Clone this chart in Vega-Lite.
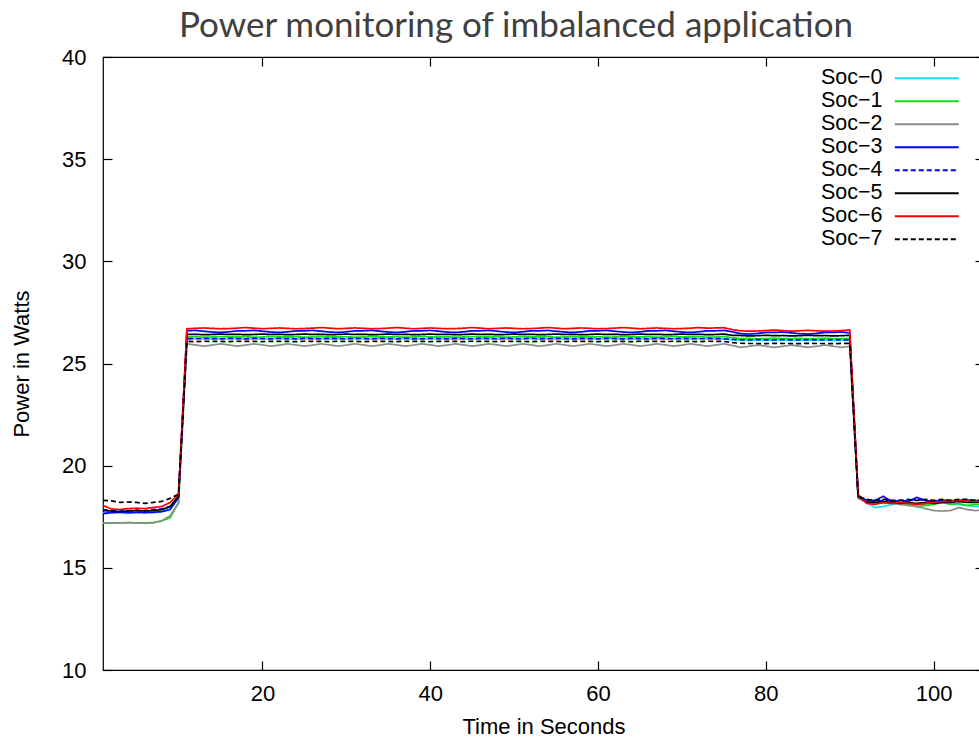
{
  "$schema": "https://vega.github.io/schema/vega-lite/v6.json",
  "width": 881,
  "height": 613,
  "autosize": "none",
  "padding": {"left": 103, "top": 57, "right": 0, "bottom": 67},
  "background": "white",
  "title": {"text": "Power monitoring of imbalanced application", "anchor": "start", "frame": "group", "dx": 76, "dy": 26, "offset": 0, "baseline": "alphabetic", "font": "Lato", "fontSize": 35, "fontWeight": "normal", "color": "#404040"},
  "data": {"values": [
    {"t":1,"Soc−0":17.7,"Soc−1":17.2,"Soc−2":17.2,"Soc−3":17.65,"Soc−4":17.85,"Soc−5":17.8,"Soc−6":18.05,"Soc−7":18.3},
    {"t":2,"Soc−0":17.72,"Soc−1":17.2,"Soc−2":17.18,"Soc−3":17.7,"Soc−4":17.8,"Soc−5":17.78,"Soc−6":17.88,"Soc−7":18.28},
    {"t":3,"Soc−0":17.7,"Soc−1":17.2,"Soc−2":17.2,"Soc−3":17.72,"Soc−4":17.82,"Soc−5":17.75,"Soc−6":17.85,"Soc−7":18.2},
    {"t":4,"Soc−0":17.68,"Soc−1":17.22,"Soc−2":17.2,"Soc−3":17.7,"Soc−4":17.8,"Soc−5":17.78,"Soc−6":17.9,"Soc−7":18.22},
    {"t":5,"Soc−0":17.7,"Soc−1":17.2,"Soc−2":17.2,"Soc−3":17.72,"Soc−4":17.82,"Soc−5":17.8,"Soc−6":17.92,"Soc−7":18.2},
    {"t":6,"Soc−0":17.72,"Soc−1":17.2,"Soc−2":17.18,"Soc−3":17.7,"Soc−4":17.8,"Soc−5":17.78,"Soc−6":17.9,"Soc−7":18.15},
    {"t":7,"Soc−0":17.7,"Soc−1":17.22,"Soc−2":17.2,"Soc−3":17.72,"Soc−4":17.85,"Soc−5":17.8,"Soc−6":17.95,"Soc−7":18.2},
    {"t":8,"Soc−0":17.75,"Soc−1":17.3,"Soc−2":17.3,"Soc−3":17.75,"Soc−4":17.88,"Soc−5":17.85,"Soc−6":18.0,"Soc−7":18.25},
    {"t":9,"Soc−0":17.9,"Soc−1":17.45,"Soc−2":17.55,"Soc−3":17.85,"Soc−4":18.0,"Soc−5":18.0,"Soc−6":18.2,"Soc−7":18.4},
    {"t":10,"Soc−0":18.4,"Soc−1":18.2,"Soc−2":18.15,"Soc−3":18.45,"Soc−4":18.5,"Soc−5":18.5,"Soc−6":18.6,"Soc−7":18.6},
    {"t":11,"Soc−0":26.2,"Soc−1":26.3,"Soc−2":25.96,"Soc−3":26.6,"Soc−4":26.22,"Soc−5":26.42,"Soc−6":26.7,"Soc−7":26.08},
    {"t":12,"Soc−0":26.22,"Soc−1":26.31,"Soc−2":25.91,"Soc−3":26.62,"Soc−4":26.21,"Soc−5":26.43,"Soc−6":26.72,"Soc−7":26.07},
    {"t":13,"Soc−0":26.19,"Soc−1":26.29,"Soc−2":25.85,"Soc−3":26.58,"Soc−4":26.23,"Soc−5":26.41,"Soc−6":26.74,"Soc−7":26.09},
    {"t":14,"Soc−0":26.21,"Soc−1":26.3,"Soc−2":25.9,"Soc−3":26.54,"Soc−4":26.22,"Soc−5":26.42,"Soc−6":26.72,"Soc−7":26.08},
    {"t":15,"Soc−0":26.2,"Soc−1":26.32,"Soc−2":25.96,"Soc−3":26.52,"Soc−4":26.21,"Soc−5":26.44,"Soc−6":26.7,"Soc−7":26.08},
    {"t":16,"Soc−0":26.2,"Soc−1":26.3,"Soc−2":25.91,"Soc−3":26.55,"Soc−4":26.23,"Soc−5":26.42,"Soc−6":26.71,"Soc−7":26.07},
    {"t":17,"Soc−0":26.22,"Soc−1":26.3,"Soc−2":25.85,"Soc−3":26.6,"Soc−4":26.22,"Soc−5":26.43,"Soc−6":26.73,"Soc−7":26.09},
    {"t":18,"Soc−0":26.19,"Soc−1":26.31,"Soc−2":25.9,"Soc−3":26.6,"Soc−4":26.21,"Soc−5":26.41,"Soc−6":26.76,"Soc−7":26.08},
    {"t":19,"Soc−0":26.21,"Soc−1":26.29,"Soc−2":25.96,"Soc−3":26.62,"Soc−4":26.23,"Soc−5":26.42,"Soc−6":26.73,"Soc−7":26.08},
    {"t":20,"Soc−0":26.2,"Soc−1":26.3,"Soc−2":25.91,"Soc−3":26.58,"Soc−4":26.22,"Soc−5":26.44,"Soc−6":26.7,"Soc−7":26.07},
    {"t":21,"Soc−0":26.2,"Soc−1":26.32,"Soc−2":25.85,"Soc−3":26.54,"Soc−4":26.21,"Soc−5":26.42,"Soc−6":26.72,"Soc−7":26.09},
    {"t":22,"Soc−0":26.22,"Soc−1":26.3,"Soc−2":25.9,"Soc−3":26.52,"Soc−4":26.23,"Soc−5":26.43,"Soc−6":26.74,"Soc−7":26.08},
    {"t":23,"Soc−0":26.19,"Soc−1":26.3,"Soc−2":25.96,"Soc−3":26.55,"Soc−4":26.22,"Soc−5":26.41,"Soc−6":26.72,"Soc−7":26.08},
    {"t":24,"Soc−0":26.21,"Soc−1":26.31,"Soc−2":25.91,"Soc−3":26.6,"Soc−4":26.21,"Soc−5":26.42,"Soc−6":26.7,"Soc−7":26.07},
    {"t":25,"Soc−0":26.2,"Soc−1":26.29,"Soc−2":25.85,"Soc−3":26.6,"Soc−4":26.23,"Soc−5":26.44,"Soc−6":26.71,"Soc−7":26.09},
    {"t":26,"Soc−0":26.2,"Soc−1":26.3,"Soc−2":25.9,"Soc−3":26.62,"Soc−4":26.22,"Soc−5":26.42,"Soc−6":26.73,"Soc−7":26.08},
    {"t":27,"Soc−0":26.22,"Soc−1":26.32,"Soc−2":25.96,"Soc−3":26.58,"Soc−4":26.21,"Soc−5":26.43,"Soc−6":26.76,"Soc−7":26.08},
    {"t":28,"Soc−0":26.19,"Soc−1":26.3,"Soc−2":25.91,"Soc−3":26.54,"Soc−4":26.23,"Soc−5":26.41,"Soc−6":26.73,"Soc−7":26.07},
    {"t":29,"Soc−0":26.21,"Soc−1":26.3,"Soc−2":25.85,"Soc−3":26.52,"Soc−4":26.22,"Soc−5":26.42,"Soc−6":26.7,"Soc−7":26.09},
    {"t":30,"Soc−0":26.2,"Soc−1":26.31,"Soc−2":25.9,"Soc−3":26.55,"Soc−4":26.21,"Soc−5":26.44,"Soc−6":26.72,"Soc−7":26.08},
    {"t":31,"Soc−0":26.2,"Soc−1":26.29,"Soc−2":25.96,"Soc−3":26.6,"Soc−4":26.23,"Soc−5":26.42,"Soc−6":26.74,"Soc−7":26.08},
    {"t":32,"Soc−0":26.22,"Soc−1":26.3,"Soc−2":25.91,"Soc−3":26.6,"Soc−4":26.22,"Soc−5":26.43,"Soc−6":26.72,"Soc−7":26.07},
    {"t":33,"Soc−0":26.19,"Soc−1":26.32,"Soc−2":25.85,"Soc−3":26.62,"Soc−4":26.21,"Soc−5":26.41,"Soc−6":26.7,"Soc−7":26.09},
    {"t":34,"Soc−0":26.21,"Soc−1":26.3,"Soc−2":25.9,"Soc−3":26.58,"Soc−4":26.23,"Soc−5":26.42,"Soc−6":26.71,"Soc−7":26.08},
    {"t":35,"Soc−0":26.2,"Soc−1":26.3,"Soc−2":25.96,"Soc−3":26.54,"Soc−4":26.22,"Soc−5":26.44,"Soc−6":26.73,"Soc−7":26.08},
    {"t":36,"Soc−0":26.2,"Soc−1":26.31,"Soc−2":25.91,"Soc−3":26.52,"Soc−4":26.21,"Soc−5":26.42,"Soc−6":26.76,"Soc−7":26.07},
    {"t":37,"Soc−0":26.22,"Soc−1":26.29,"Soc−2":25.85,"Soc−3":26.55,"Soc−4":26.23,"Soc−5":26.43,"Soc−6":26.73,"Soc−7":26.09},
    {"t":38,"Soc−0":26.19,"Soc−1":26.3,"Soc−2":25.9,"Soc−3":26.6,"Soc−4":26.22,"Soc−5":26.41,"Soc−6":26.7,"Soc−7":26.08},
    {"t":39,"Soc−0":26.21,"Soc−1":26.32,"Soc−2":25.96,"Soc−3":26.6,"Soc−4":26.21,"Soc−5":26.42,"Soc−6":26.72,"Soc−7":26.08},
    {"t":40,"Soc−0":26.2,"Soc−1":26.3,"Soc−2":25.91,"Soc−3":26.62,"Soc−4":26.23,"Soc−5":26.44,"Soc−6":26.74,"Soc−7":26.07},
    {"t":41,"Soc−0":26.2,"Soc−1":26.3,"Soc−2":25.85,"Soc−3":26.58,"Soc−4":26.22,"Soc−5":26.42,"Soc−6":26.72,"Soc−7":26.09},
    {"t":42,"Soc−0":26.22,"Soc−1":26.31,"Soc−2":25.9,"Soc−3":26.54,"Soc−4":26.21,"Soc−5":26.43,"Soc−6":26.7,"Soc−7":26.08},
    {"t":43,"Soc−0":26.19,"Soc−1":26.29,"Soc−2":25.96,"Soc−3":26.52,"Soc−4":26.23,"Soc−5":26.41,"Soc−6":26.71,"Soc−7":26.08},
    {"t":44,"Soc−0":26.21,"Soc−1":26.3,"Soc−2":25.91,"Soc−3":26.55,"Soc−4":26.22,"Soc−5":26.42,"Soc−6":26.73,"Soc−7":26.07},
    {"t":45,"Soc−0":26.2,"Soc−1":26.32,"Soc−2":25.85,"Soc−3":26.6,"Soc−4":26.21,"Soc−5":26.44,"Soc−6":26.76,"Soc−7":26.09},
    {"t":46,"Soc−0":26.2,"Soc−1":26.3,"Soc−2":25.9,"Soc−3":26.6,"Soc−4":26.23,"Soc−5":26.42,"Soc−6":26.73,"Soc−7":26.08},
    {"t":47,"Soc−0":26.22,"Soc−1":26.3,"Soc−2":25.96,"Soc−3":26.62,"Soc−4":26.22,"Soc−5":26.43,"Soc−6":26.7,"Soc−7":26.08},
    {"t":48,"Soc−0":26.19,"Soc−1":26.31,"Soc−2":25.91,"Soc−3":26.58,"Soc−4":26.21,"Soc−5":26.41,"Soc−6":26.72,"Soc−7":26.07},
    {"t":49,"Soc−0":26.21,"Soc−1":26.29,"Soc−2":25.85,"Soc−3":26.54,"Soc−4":26.23,"Soc−5":26.42,"Soc−6":26.74,"Soc−7":26.09},
    {"t":50,"Soc−0":26.2,"Soc−1":26.3,"Soc−2":25.9,"Soc−3":26.52,"Soc−4":26.22,"Soc−5":26.44,"Soc−6":26.72,"Soc−7":26.08},
    {"t":51,"Soc−0":26.2,"Soc−1":26.32,"Soc−2":25.96,"Soc−3":26.55,"Soc−4":26.21,"Soc−5":26.42,"Soc−6":26.7,"Soc−7":26.08},
    {"t":52,"Soc−0":26.22,"Soc−1":26.3,"Soc−2":25.91,"Soc−3":26.6,"Soc−4":26.23,"Soc−5":26.43,"Soc−6":26.71,"Soc−7":26.07},
    {"t":53,"Soc−0":26.19,"Soc−1":26.3,"Soc−2":25.85,"Soc−3":26.6,"Soc−4":26.22,"Soc−5":26.41,"Soc−6":26.73,"Soc−7":26.09},
    {"t":54,"Soc−0":26.21,"Soc−1":26.31,"Soc−2":25.9,"Soc−3":26.62,"Soc−4":26.21,"Soc−5":26.42,"Soc−6":26.76,"Soc−7":26.08},
    {"t":55,"Soc−0":26.2,"Soc−1":26.29,"Soc−2":25.96,"Soc−3":26.58,"Soc−4":26.23,"Soc−5":26.44,"Soc−6":26.73,"Soc−7":26.08},
    {"t":56,"Soc−0":26.2,"Soc−1":26.3,"Soc−2":25.91,"Soc−3":26.54,"Soc−4":26.22,"Soc−5":26.42,"Soc−6":26.7,"Soc−7":26.07},
    {"t":57,"Soc−0":26.22,"Soc−1":26.32,"Soc−2":25.85,"Soc−3":26.52,"Soc−4":26.21,"Soc−5":26.43,"Soc−6":26.72,"Soc−7":26.09},
    {"t":58,"Soc−0":26.19,"Soc−1":26.3,"Soc−2":25.9,"Soc−3":26.55,"Soc−4":26.23,"Soc−5":26.41,"Soc−6":26.74,"Soc−7":26.08},
    {"t":59,"Soc−0":26.21,"Soc−1":26.3,"Soc−2":25.96,"Soc−3":26.6,"Soc−4":26.22,"Soc−5":26.42,"Soc−6":26.72,"Soc−7":26.08},
    {"t":60,"Soc−0":26.2,"Soc−1":26.31,"Soc−2":25.91,"Soc−3":26.6,"Soc−4":26.21,"Soc−5":26.44,"Soc−6":26.7,"Soc−7":26.07},
    {"t":61,"Soc−0":26.2,"Soc−1":26.29,"Soc−2":25.85,"Soc−3":26.62,"Soc−4":26.23,"Soc−5":26.42,"Soc−6":26.71,"Soc−7":26.09},
    {"t":62,"Soc−0":26.22,"Soc−1":26.3,"Soc−2":25.9,"Soc−3":26.58,"Soc−4":26.22,"Soc−5":26.43,"Soc−6":26.73,"Soc−7":26.08},
    {"t":63,"Soc−0":26.19,"Soc−1":26.32,"Soc−2":25.96,"Soc−3":26.54,"Soc−4":26.21,"Soc−5":26.41,"Soc−6":26.76,"Soc−7":26.08},
    {"t":64,"Soc−0":26.21,"Soc−1":26.3,"Soc−2":25.91,"Soc−3":26.52,"Soc−4":26.23,"Soc−5":26.42,"Soc−6":26.73,"Soc−7":26.07},
    {"t":65,"Soc−0":26.2,"Soc−1":26.3,"Soc−2":25.85,"Soc−3":26.55,"Soc−4":26.22,"Soc−5":26.44,"Soc−6":26.7,"Soc−7":26.09},
    {"t":66,"Soc−0":26.2,"Soc−1":26.31,"Soc−2":25.9,"Soc−3":26.6,"Soc−4":26.21,"Soc−5":26.42,"Soc−6":26.72,"Soc−7":26.08},
    {"t":67,"Soc−0":26.22,"Soc−1":26.29,"Soc−2":25.96,"Soc−3":26.6,"Soc−4":26.23,"Soc−5":26.43,"Soc−6":26.74,"Soc−7":26.08},
    {"t":68,"Soc−0":26.19,"Soc−1":26.3,"Soc−2":25.91,"Soc−3":26.62,"Soc−4":26.22,"Soc−5":26.41,"Soc−6":26.72,"Soc−7":26.07},
    {"t":69,"Soc−0":26.21,"Soc−1":26.32,"Soc−2":25.85,"Soc−3":26.58,"Soc−4":26.21,"Soc−5":26.42,"Soc−6":26.7,"Soc−7":26.09},
    {"t":70,"Soc−0":26.2,"Soc−1":26.3,"Soc−2":25.9,"Soc−3":26.54,"Soc−4":26.23,"Soc−5":26.44,"Soc−6":26.71,"Soc−7":26.08},
    {"t":71,"Soc−0":26.2,"Soc−1":26.3,"Soc−2":25.96,"Soc−3":26.52,"Soc−4":26.22,"Soc−5":26.42,"Soc−6":26.73,"Soc−7":26.08},
    {"t":72,"Soc−0":26.22,"Soc−1":26.31,"Soc−2":25.91,"Soc−3":26.55,"Soc−4":26.21,"Soc−5":26.43,"Soc−6":26.76,"Soc−7":26.07},
    {"t":73,"Soc−0":26.19,"Soc−1":26.29,"Soc−2":25.85,"Soc−3":26.6,"Soc−4":26.23,"Soc−5":26.41,"Soc−6":26.73,"Soc−7":26.09},
    {"t":74,"Soc−0":26.21,"Soc−1":26.3,"Soc−2":25.9,"Soc−3":26.6,"Soc−4":26.22,"Soc−5":26.42,"Soc−6":26.74,"Soc−7":26.08},
    {"t":75,"Soc−0":26.2,"Soc−1":26.32,"Soc−2":25.96,"Soc−3":26.62,"Soc−4":26.21,"Soc−5":26.44,"Soc−6":26.75,"Soc−7":26.08},
    {"t":76,"Soc−0":26.16,"Soc−1":26.26,"Soc−2":25.88,"Soc−3":26.55,"Soc−4":26.18,"Soc−5":26.38,"Soc−6":26.66,"Soc−7":26.02},
    {"t":77,"Soc−0":26.16,"Soc−1":26.22,"Soc−2":25.79,"Soc−3":26.46,"Soc−4":26.16,"Soc−5":26.37,"Soc−6":26.6,"Soc−7":25.99},
    {"t":78,"Soc−0":26.13,"Soc−1":26.23,"Soc−2":25.84,"Soc−3":26.44,"Soc−4":26.15,"Soc−5":26.35,"Soc−6":26.58,"Soc−7":25.98},
    {"t":79,"Soc−0":26.15,"Soc−1":26.21,"Soc−2":25.9,"Soc−3":26.47,"Soc−4":26.17,"Soc−5":26.36,"Soc−6":26.59,"Soc−7":25.98},
    {"t":80,"Soc−0":26.14,"Soc−1":26.22,"Soc−2":25.85,"Soc−3":26.52,"Soc−4":26.16,"Soc−5":26.38,"Soc−6":26.61,"Soc−7":25.97},
    {"t":81,"Soc−0":26.14,"Soc−1":26.24,"Soc−2":25.79,"Soc−3":26.52,"Soc−4":26.15,"Soc−5":26.36,"Soc−6":26.64,"Soc−7":25.99},
    {"t":82,"Soc−0":26.16,"Soc−1":26.22,"Soc−2":25.84,"Soc−3":26.54,"Soc−4":26.17,"Soc−5":26.37,"Soc−6":26.61,"Soc−7":25.98},
    {"t":83,"Soc−0":26.13,"Soc−1":26.22,"Soc−2":25.9,"Soc−3":26.5,"Soc−4":26.16,"Soc−5":26.35,"Soc−6":26.58,"Soc−7":25.98},
    {"t":84,"Soc−0":26.15,"Soc−1":26.23,"Soc−2":25.85,"Soc−3":26.46,"Soc−4":26.15,"Soc−5":26.36,"Soc−6":26.6,"Soc−7":25.97},
    {"t":85,"Soc−0":26.14,"Soc−1":26.21,"Soc−2":25.79,"Soc−3":26.44,"Soc−4":26.17,"Soc−5":26.38,"Soc−6":26.62,"Soc−7":25.99},
    {"t":86,"Soc−0":26.14,"Soc−1":26.22,"Soc−2":25.84,"Soc−3":26.47,"Soc−4":26.16,"Soc−5":26.36,"Soc−6":26.6,"Soc−7":25.98},
    {"t":87,"Soc−0":26.16,"Soc−1":26.24,"Soc−2":25.9,"Soc−3":26.52,"Soc−4":26.15,"Soc−5":26.37,"Soc−6":26.58,"Soc−7":25.98},
    {"t":88,"Soc−0":26.13,"Soc−1":26.22,"Soc−2":25.85,"Soc−3":26.52,"Soc−4":26.17,"Soc−5":26.35,"Soc−6":26.59,"Soc−7":25.97},
    {"t":89,"Soc−0":26.15,"Soc−1":26.22,"Soc−2":25.79,"Soc−3":26.54,"Soc−4":26.16,"Soc−5":26.36,"Soc−6":26.61,"Soc−7":25.99},
    {"t":90,"Soc−0":26.14,"Soc−1":26.23,"Soc−2":25.84,"Soc−3":26.5,"Soc−4":26.15,"Soc−5":26.38,"Soc−6":26.64,"Soc−7":25.98},
    {"t":91,"Soc−0":18.5,"Soc−1":18.45,"Soc−2":18.4,"Soc−3":18.55,"Soc−4":18.5,"Soc−5":18.5,"Soc−6":18.6,"Soc−7":18.5},
    {"t":92,"Soc−0":18.2,"Soc−1":18.25,"Soc−2":18.2,"Soc−3":18.3,"Soc−4":18.3,"Soc−5":18.2,"Soc−6":18.15,"Soc−7":18.35},
    {"t":93,"Soc−0":17.95,"Soc−1":18.2,"Soc−2":18.15,"Soc−3":18.3,"Soc−4":18.25,"Soc−5":18.2,"Soc−6":18.1,"Soc−7":18.3},
    {"t":94,"Soc−0":18.0,"Soc−1":18.15,"Soc−2":18.2,"Soc−3":18.5,"Soc−4":18.3,"Soc−5":18.25,"Soc−6":18.2,"Soc−7":18.35},
    {"t":95,"Soc−0":18.1,"Soc−1":18.2,"Soc−2":18.15,"Soc−3":18.25,"Soc−4":18.3,"Soc−5":18.2,"Soc−6":18.15,"Soc−7":18.3},
    {"t":96,"Soc−0":18.15,"Soc−1":18.15,"Soc−2":18.1,"Soc−3":18.3,"Soc−4":18.25,"Soc−5":18.15,"Soc−6":18.2,"Soc−7":18.3},
    {"t":97,"Soc−0":18.1,"Soc−1":18.1,"Soc−2":18.05,"Soc−3":18.25,"Soc−4":18.3,"Soc−5":18.2,"Soc−6":18.15,"Soc−7":18.35},
    {"t":98,"Soc−0":18.15,"Soc−1":18.0,"Soc−2":18.0,"Soc−3":18.45,"Soc−4":18.35,"Soc−5":18.15,"Soc−6":18.1,"Soc−7":18.3},
    {"t":99,"Soc−0":18.1,"Soc−1":18.05,"Soc−2":17.9,"Soc−3":18.3,"Soc−4":18.3,"Soc−5":18.2,"Soc−6":18.15,"Soc−7":18.35},
    {"t":100,"Soc−0":18.15,"Soc−1":18.1,"Soc−2":17.8,"Soc−3":18.25,"Soc−4":18.25,"Soc−5":18.15,"Soc−6":18.2,"Soc−7":18.3},
    {"t":101,"Soc−0":18.2,"Soc−1":18.2,"Soc−2":17.78,"Soc−3":18.3,"Soc−4":18.3,"Soc−5":18.2,"Soc−6":18.25,"Soc−7":18.35},
    {"t":102,"Soc−0":18.15,"Soc−1":18.1,"Soc−2":17.8,"Soc−3":18.25,"Soc−4":18.3,"Soc−5":18.2,"Soc−6":18.25,"Soc−7":18.3},
    {"t":103,"Soc−0":18.1,"Soc−1":18.15,"Soc−2":17.95,"Soc−3":18.3,"Soc−4":18.25,"Soc−5":18.25,"Soc−6":18.3,"Soc−7":18.35},
    {"t":104,"Soc−0":18.05,"Soc−1":18.05,"Soc−2":17.85,"Soc−3":18.3,"Soc−4":18.3,"Soc−5":18.2,"Soc−6":18.3,"Soc−7":18.35},
    {"t":105,"Soc−0":18.0,"Soc−1":18.1,"Soc−2":17.8,"Soc−3":18.25,"Soc−4":18.3,"Soc−5":18.2,"Soc−6":18.25,"Soc−7":18.3},
    {"t":106,"Soc−0":18.0,"Soc−1":18.1,"Soc−2":17.85,"Soc−3":18.3,"Soc−4":18.25,"Soc−5":18.2,"Soc−6":18.25,"Soc−7":18.35}
  ]},
  "transform": [{"fold": ["Soc−0","Soc−1","Soc−2","Soc−3","Soc−4","Soc−5","Soc−6","Soc−7"], "as": ["series","power"]}],
  "layer": [
    {
      "mark": {"type": "line", "strokeWidth": 1.7},
      "encoding": {
        "x": {"field": "t", "type": "quantitative", "scale": {"domain": [1, 106], "nice": false, "zero": false},
              "axis": {"values": [20,40,60,80,100], "title": "Time in Seconds", "grid": false, "domain": false, "tickSize": -9, "labelPadding": 22, "titlePadding": 12}},
        "y": {"field": "power", "type": "quantitative", "scale": {"domain": [10, 40], "nice": false, "zero": false},
              "axis": {"values": [10,15,20,25,30,35,40], "title": "Power in Watts", "grid": false, "domain": false, "tickSize": -9, "labelPadding": 26, "titlePadding": 28}},
        "color": {"field": "series", "type": "nominal",
                  "scale": {"domain": ["Soc−0","Soc−1","Soc−2","Soc−3","Soc−4","Soc−5","Soc−6","Soc−7"],
                            "range": ["#11e4f0","#11e011","#8c8c8c","#0000ff","#0000ff","#000000","#ff0000","#000000"]},
                  "legend": {"title": null}},
        "strokeDash": {"field": "series", "type": "nominal",
                  "scale": {"domain": ["Soc−0","Soc−1","Soc−2","Soc−3","Soc−4","Soc−5","Soc−6","Soc−7"],
                            "range": [[1,0],[1,0],[1,0],[1,0],[5,3],[1,0],[1,0],[5,3]]},
                  "legend": {"title": null}}
      }
    },
    {
      "mark": {"type": "line", "strokeOpacity": 0},
      "encoding": {
        "x": {"field": "t", "type": "quantitative", "scale": {"domain": [1, 106], "nice": false, "zero": false},
              "axis": {"orient": "top", "values": [20,40,60,80,100], "labels": false, "title": null, "grid": false, "domain": false, "tickSize": -9}},
        "y": {"field": "power", "type": "quantitative", "scale": {"domain": [10, 40], "nice": false, "zero": false},
              "axis": {"orient": "right", "values": [10,15,20,25,30,35,40], "labels": false, "title": null, "grid": false, "domain": false, "tickSize": -9}}
      }
    }
  ],
  "resolve": {"axis": {"x": "independent", "y": "independent"}},
  "config": {
    "view": {"stroke": "#000000", "strokeWidth": 1.2},
    "axis": {"labelFont": "Liberation Sans", "labelFontSize": 22, "labelColor": "#000000", "tickColor": "#000000", "tickWidth": 1.2,
             "titleFont": "Liberation Sans", "titleFontSize": 22, "titleFontWeight": "normal", "titleColor": "#000000"},
    "legend": {"orient": "none", "legendX": 813, "legendY": 10.5, "symbolType": "M-3.55,0H3.55", "symbolSize": 324, "symbolStrokeWidth": 1.8,
               "labelAlign": "right", "labelOffset": -55, "labelFont": "Liberation Sans", "labelFontSize": 21.5, "labelColor": "#000000",
               "rowPadding": 0, "labelLimit": 0, "padding": 0}
  }
}
